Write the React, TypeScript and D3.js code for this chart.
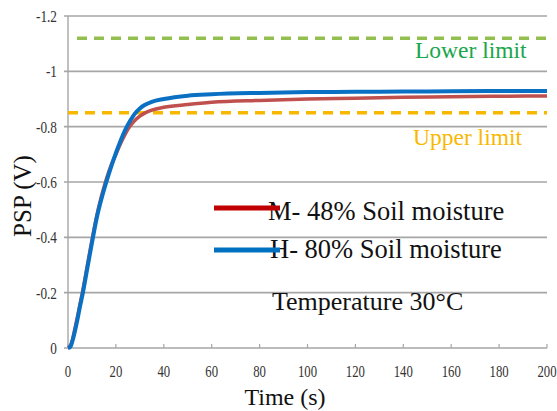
import React from "react";
import * as d3 from "d3";

// time (s)
const time = [0, 1, 2, 3, 4, 5, 6, 8, 10, 12, 14, 16, 18, 20, 22, 24, 26, 28, 30, 32, 35, 40, 50, 60, 80, 100, 120, 140, 160, 180, 200];
// H- 80% soil moisture (blue)
const highMoisture = [0, -0.005, -0.03, -0.065, -0.105, -0.15, -0.19, -0.285, -0.38, -0.47, -0.54, -0.6, -0.655, -0.705, -0.75, -0.79, -0.822, -0.848, -0.866, -0.878, -0.89, -0.9, -0.912, -0.917, -0.922, -0.925, -0.926, -0.927, -0.928, -0.929, -0.929];
// M- 48% soil moisture (red)
const midMoisture = [0, -0.008, -0.035, -0.075, -0.115, -0.158, -0.2, -0.295, -0.39, -0.478, -0.55, -0.61, -0.66, -0.7, -0.74, -0.775, -0.803, -0.823, -0.838, -0.849, -0.86, -0.87, -0.88, -0.888, -0.895, -0.9, -0.903, -0.906, -0.908, -0.91, -0.911];

const yTicks = [0, -0.2, -0.4, -0.6, -0.8, -1, -1.2];
const yTickLabels = ["0", "-0.2", "-0.4", "-0.6", "-0.8", "-1", "-1.2"];
const xTicks = [0, 20, 40, 60, 80, 100, 120, 140, 160, 180, 200];

const lowerLimit = -1.12;
const upperLimit = -0.85;

const legendItems = [
  { label: "M- 48% Soil moisture", color: "#c00000" },
  { label: "H- 80% Soil moisture", color: "#0070c0" },
];

const serif = { fontFamily: '"Liberation Serif", "Times New Roman", "DejaVu Serif", serif' };

export default function App() {
  const width = 557;
  const height = 411;

  const x = d3.scaleLinear().domain([0, 200]).range([68, 547]);
  const y = d3.scaleLinear().domain([0, -1.2]).range([348, 16]);

  const line = d3
    .line<number>()
    .x((_, i) => x(time[i]))
    .y((d) => y(d))
    .curve(d3.curveMonotoneX);

  return (
    <>
      <style>{`body{margin:0}`}</style>
      <svg width={width} height={height} style={{ display: "block", background: "#fff", ...serif }}>
        {/* gridlines */}
        {yTicks.map((t) => (
          <line key={t} x1={64} x2={547} y1={y(t)} y2={y(t)} stroke="#a6a6a6" strokeWidth={1.6} />
        ))}
        <line x1={x(0)} x2={x(0)} y1={y(-1.2)} y2={y(0)} stroke="#a6a6a6" strokeWidth={1.4} />
        {xTicks.map((t) => (
          <line key={t} x1={x(t)} x2={x(t)} y1={y(0) - 4} y2={y(0)} stroke="#a6a6a6" strokeWidth={1.2} />
        ))}

        {/* tick labels */}
        {yTicks.map((t, i) => (
          <g key={t} transform={`translate(57,${y(t) + 6}) scale(0.78,1)`}>
            <text textAnchor="end" fontSize={17} fill="#333" style={serif}>
              {yTickLabels[i]}
            </text>
          </g>
        ))}
        {xTicks.map((t) => (
          <g key={t} transform={`translate(${x(t)},377) scale(0.75,1)`}>
            <text textAnchor="middle" fontSize={17} fill="#333" style={serif}>
              {t}
            </text>
          </g>
        ))}

        {/* limit lines */}
        <line x1={77} x2={547} y1={y(lowerLimit)} y2={y(lowerLimit)} stroke="#92bf4f" strokeWidth={3.5} strokeDasharray="10 7" />
        <line x1={68} x2={547} y1={y(upperLimit)} y2={y(upperLimit)} stroke="#f8b800" strokeWidth={3.5} strokeDasharray="10 7" />
        <text x={415} y={58} fontSize={23.5} fill="#1aa64b" style={serif}>Lower limit</text>
        <text x={413} y={145} fontSize={23.5} fill="#f8b800" style={serif}>Upper limit</text>

        {/* curves */}
        <path d={line(midMoisture) ?? ""} fill="none" stroke="#c0504d" strokeWidth={3.5} />
        <path d={line(highMoisture) ?? ""} fill="none" stroke="#0a70c4" strokeWidth={4} />

        {/* legend */}
        {legendItems.map((item, i) => (
          <g key={item.label}>
            <text x={268 + i * 2} y={220 + i * 38} fontSize={26.5} fill="#111" style={serif}>
              {item.label}
            </text>
            <line x1={214} x2={280} y1={208 + i * 42} y2={208 + i * 42} stroke={item.color} strokeWidth={5} />
          </g>
        ))}
        <text x={272} y={310} fontSize={26} fill="#111" style={serif}>Temperature 30°C</text>

        {/* axis titles */}
        <text x={285} y={405} textAnchor="middle" fontSize={24} fill="#111" style={serif}>Time (s)</text>
        <text transform="translate(31,196) rotate(-90)" textAnchor="middle" fontSize={25} fill="#111" style={serif}>PSP (V)</text>
      </svg>
    </>
  );
}
